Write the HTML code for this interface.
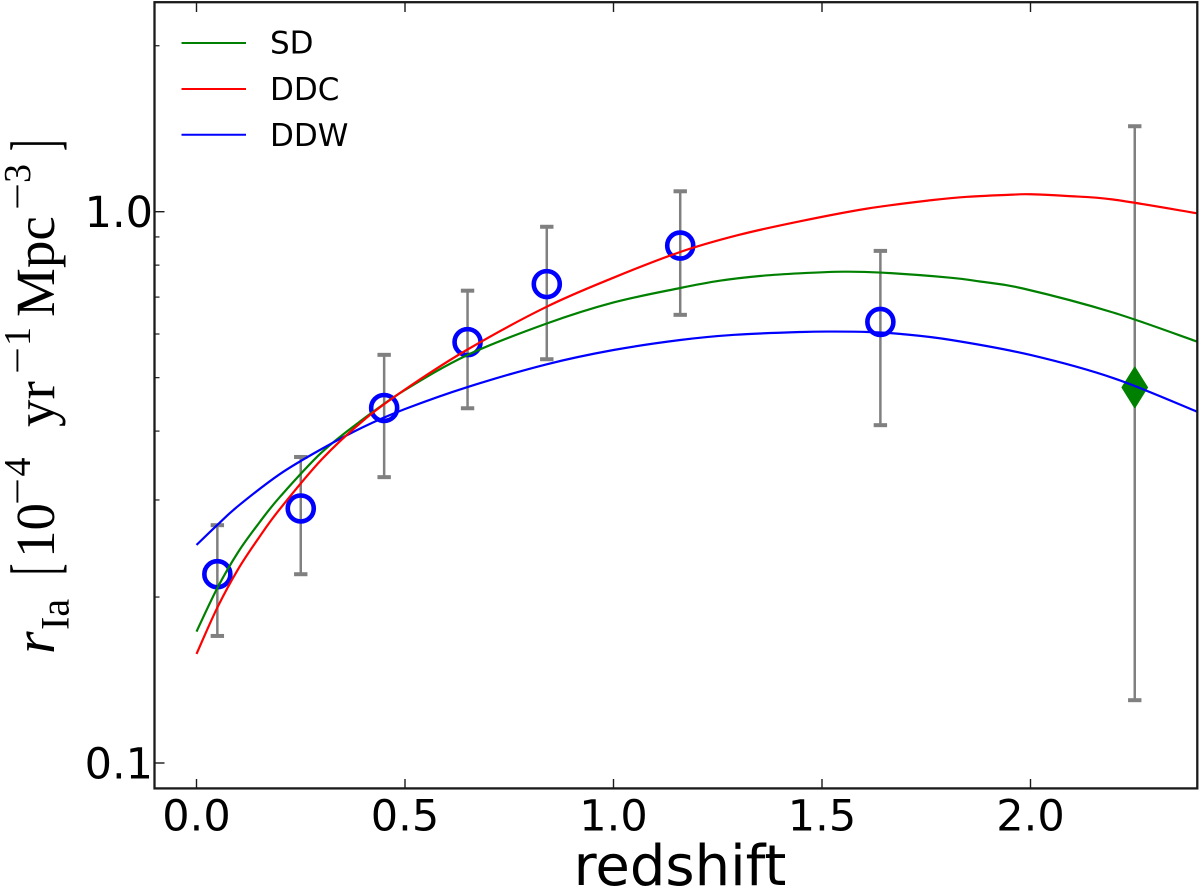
<!DOCTYPE html>
<html lang="en">
<head>
<meta charset="utf-8">
<title>SN Ia rate vs redshift</title>
<style>
html,body{margin:0;padding:0;background:#fff;}
svg{display:block;}
.tick{font-family:"DejaVu Sans","Liberation Sans",sans-serif;font-size:43px;fill:#000;}
.legend{font-family:"DejaVu Sans","Liberation Sans",sans-serif;font-size:31px;fill:#000;}
.math{font-family:"Liberation Serif",serif;fill:#000;}
</style>
</head>
<body>
<svg id="chart" width="1200" height="889" viewBox="0 0 1200 889" xmlns="http://www.w3.org/2000/svg">
  <rect x="0" y="0" width="1200" height="889" fill="#fff"/>
  <g id="ticks"></g>
  <g id="marks"></g>
  <g id="curves"></g>
  <rect x="154.5" y="2.2" width="1042.8" height="786.2" fill="none" stroke="#1a1a1a" stroke-width="2.3"/>
  <g id="labels"></g>

  <g>
    <line x1="181.5" x2="246" y1="43" y2="43" stroke="#008000" stroke-width="2"/>
    <text class="legend" x="270" y="53.3">SD</text>
    <line x1="181.5" x2="246" y1="89" y2="89" stroke="#ff0000" stroke-width="2"/>
    <text class="legend" x="270" y="99.8">DDC</text>
    <line x1="181.5" x2="246" y1="134.7" y2="134.7" stroke="#0000ff" stroke-width="2"/>
    <text class="legend" x="270" y="145.8">DDW</text>
  </g>

  <text x="680" y="885" text-anchor="middle" font-family="'DejaVu Sans','Liberation Sans',sans-serif" font-size="56" fill="#000">redshift</text>

  <g>
    <text class="math" font-size="58" font-style="italic" transform="translate(54,654) rotate(-90)">r</text>
    <text class="math" font-size="40" transform="translate(68.3,630) rotate(-90)">Ia</text>
    <text class="math" font-size="68" transform="translate(57.5,575) rotate(-90) scale(0.5,1)">[</text>
    <text class="math" font-size="55" transform="translate(54,558) rotate(-90)">10</text>
    <text class="math" font-size="38" textLength="27" lengthAdjust="spacingAndGlyphs" transform="translate(30,505) rotate(-90)">−</text>
    <text class="math" font-size="38" transform="translate(30,476.5) rotate(-90)">4</text>
    <text class="math" font-size="55" transform="translate(54,427) rotate(-90)">yr</text>
    <text class="math" font-size="38" textLength="27" lengthAdjust="spacingAndGlyphs" transform="translate(30,374) rotate(-90)">−</text>
    <text class="math" font-size="38" transform="translate(30,346) rotate(-90)">1</text>
    <text class="math" font-size="55" transform="translate(54,317) rotate(-90)">Mpc</text>
    <text class="math" font-size="38" textLength="27" lengthAdjust="spacingAndGlyphs" transform="translate(30,210) rotate(-90)">−</text>
    <text class="math" font-size="38" transform="translate(30,183) rotate(-90)">3</text>
    <text class="math" font-size="68" transform="translate(57.5,151) rotate(-90) scale(0.5,1)">]</text>
  </g>
</svg>
<script>
// ---- chart data ----
const xTicks = [0, 0.5, 1, 1.5, 2];
const xTickLabels = ['0.0', '0.5', '1.0', '1.5', '2.0'];
const yMajorTicks = [0.1, 1];
const yTickLabels = ['0.1', '1.0'];
const yMinorTicks = [0.2, 0.3, 0.4, 0.5, 0.6, 0.7, 0.8, 0.9, 2];

const obsZ = [0.05, 0.25, 0.45, 0.65, 0.84, 1.16, 1.64];
const obsRate = [0.220, 0.2895, 0.4405, 0.580, 0.739, 0.868, 0.631];
const obsHigh = [0.270, 0.359, 0.550, 0.719, 0.939, 1.089, 0.849];
const obsLow = [0.170, 0.220, 0.330, 0.440, 0.540, 0.650, 0.410];

const diamondZ = [2.25];
const diamondRate = [0.480];
const diamondHigh = [1.429];
const diamondLow = [0.130];

const sdZ = [0, 0.05, 0.1, 0.15, 0.2, 0.3, 0.4, 0.5, 0.65, 0.84, 1.0, 1.16, 1.255, 1.351, 1.447, 1.55, 1.64, 1.807, 1.879, 1.982, 2.198, 2.4];
const sdRate = [0.1731, 0.2077, 0.2414, 0.2725, 0.3038, 0.3658, 0.4207, 0.4749, 0.5497, 0.6269, 0.6845, 0.7271, 0.7496, 0.7645, 0.7731, 0.7783, 0.7756, 0.7592, 0.7471, 0.7256, 0.6564, 0.5810];

const ddcZ = [0, 0.05, 0.1, 0.15, 0.2, 0.3, 0.4, 0.5, 0.65, 0.84, 1.0, 1.16, 1.3, 1.447, 1.608, 1.766, 1.848, 1.958, 2.0, 2.088, 2.198, 2.4];
const ddcRate = [0.1577, 0.1914, 0.2248, 0.2565, 0.2889, 0.3552, 0.4181, 0.4759, 0.5624, 0.6725, 0.7591, 0.8451, 0.9073, 0.9607, 1.0130, 1.050, 1.0642, 1.0740, 1.0755, 1.0678, 1.0522, 0.9933];

const ddwZ = [0, 0.05, 0.1, 0.2, 0.3, 0.4, 0.5, 0.65, 0.84, 1.0, 1.16, 1.29, 1.45, 1.53, 1.61, 1.69, 1.81, 2.0, 2.2, 2.4];
const ddwRate = [0.2486, 0.2703, 0.2926, 0.3343, 0.3712, 0.4069, 0.4386, 0.4808, 0.5287, 0.5612, 0.5852, 0.5980, 0.6051, 0.6061, 0.6051, 0.6000, 0.5852, 0.5497, 0.4987, 0.4337];

// ---- axis functions ----
const NS = 'http://www.w3.org/2000/svg';
function xScale(z) { return 196.5 + 417 * z; }
function yScale(r) { return 211.7 - 551.3 * Math.log10(r); }
function make(tag, attrs, parent) {
  const el = document.createElementNS(NS, tag);
  for (const k in attrs) el.setAttribute(k, attrs[k]);
  parent.appendChild(el);
  return el;
}
const tickGroup = document.getElementById('ticks');
const labelGroup = document.getElementById('labels');
const markGroup = document.getElementById('marks');
const curveGroup = document.getElementById('curves');

// x ticks: bottom and top
xTicks.forEach(function (t, i) {
  const x = xScale(t);
  const b = make('line', { x1: x, x2: x, y1: 788, y2: 779, stroke: '#1a1a1a', 'stroke-width': 1.4 }, tickGroup);
  
  
  const u = make('line', { x1: x, x2: x, y1: 3, y2: 12, stroke: '#1a1a1a', 'stroke-width': 1.4 }, tickGroup);
  
  
  const lab = make('text', { x: x, y: 830.7, 'text-anchor': 'middle', class: 'tick' }, labelGroup);
  lab.textContent = xTickLabels[i];
  
  
});
// y ticks
yMajorTicks.forEach(function (t, i) {
  const y = yScale(t);
  const l = make('line', { x1: 155, x2: 164.5, y1: y, y2: y, stroke: '#1a1a1a', 'stroke-width': 1.4 }, tickGroup);
  
  
  const lab = make('text', { x: 153, y: y + 15.5, 'text-anchor': 'end', class: 'tick' }, labelGroup);
  lab.textContent = yTickLabels[i];
  
  
});
yMinorTicks.forEach(function (t) {
  const y = yScale(t);
  const l = make('line', { x1: 155, x2: 159.5, y1: y, y2: y, stroke: '#1a1a1a', 'stroke-width': 1.2 }, tickGroup);
  
  
});

function errorBar(z, lo, hi) {
  const g = make('g', {}, markGroup);
  
  
  const x = xScale(z), yl = yScale(lo), yh = yScale(hi);
  make('line', { x1: x, x2: x, y1: yl, y2: yh, stroke: '#808080', 'stroke-width': 2.5 }, g);
  make('line', { x1: x - 6.7, x2: x + 6.7, y1: yl, y2: yl, stroke: '#808080', 'stroke-width': 4 }, g);
  make('line', { x1: x - 6.7, x2: x + 6.7, y1: yh, y2: yh, stroke: '#808080', 'stroke-width': 4 }, g);
}
obsZ.forEach(function (z, i) { errorBar(z, obsLow[i], obsHigh[i]); });
diamondZ.forEach(function (z, i) { errorBar(z, diamondLow[i], diamondHigh[i]); });

obsZ.forEach(function (z, i) {
  const c = make('circle', { cx: xScale(z), cy: yScale(obsRate[i]), r: 13, fill: 'none', stroke: '#0000ff', 'stroke-width': 4.6 }, markGroup);
  
  
});
diamondZ.forEach(function (z, i) {
  const x = xScale(z), y = yScale(diamondRate[i]);
  const p = make('path', { d: 'M' + x + ' ' + (y - 20) + 'L' + (x + 12.5) + ' ' + y + 'L' + x + ' ' + (y + 20) + 'L' + (x - 12.5) + ' ' + y + 'Z', fill: '#008000', stroke: '#008000', 'stroke-width': 1.5, 'stroke-linejoin': 'round' }, markGroup);
  
  
});

// smooth curve through the read values (Catmull-Rom)
function curvePath(zs, rs) {
  const pts = zs.map(function (z, i) { return [xScale(z), yScale(rs[i])]; });
  let d = 'M' + pts[0][0].toFixed(2) + ' ' + pts[0][1].toFixed(2);
  for (let i = 0; i < pts.length - 1; i++) {
    const p0 = pts[Math.max(i - 1, 0)], p1 = pts[i], p2 = pts[i + 1], p3 = pts[Math.min(i + 2, pts.length - 1)];
    const c1x = p1[0] + (p2[0] - p0[0]) / 6, c1y = p1[1] + (p2[1] - p0[1]) / 6;
    const c2x = p2[0] - (p3[0] - p1[0]) / 6, c2y = p2[1] - (p3[1] - p1[1]) / 6;
    d += 'C' + c1x.toFixed(2) + ' ' + c1y.toFixed(2) + ' ' + c2x.toFixed(2) + ' ' + c2y.toFixed(2) + ' ' + p2[0].toFixed(2) + ' ' + p2[1].toFixed(2);
  }
  return d;
}
const sdLine = make('path', { d: curvePath(sdZ, sdRate), fill: 'none', stroke: '#008000', 'stroke-width': 2.2 }, curveGroup);


const ddwLine = make('path', { d: curvePath(ddwZ, ddwRate), fill: 'none', stroke: '#0000ff', 'stroke-width': 2.2 }, curveGroup);


const ddcLine = make('path', { d: curvePath(ddcZ, ddcRate), fill: 'none', stroke: '#ff0000', 'stroke-width': 2.2 }, curveGroup);


</script>
</body>
</html>
